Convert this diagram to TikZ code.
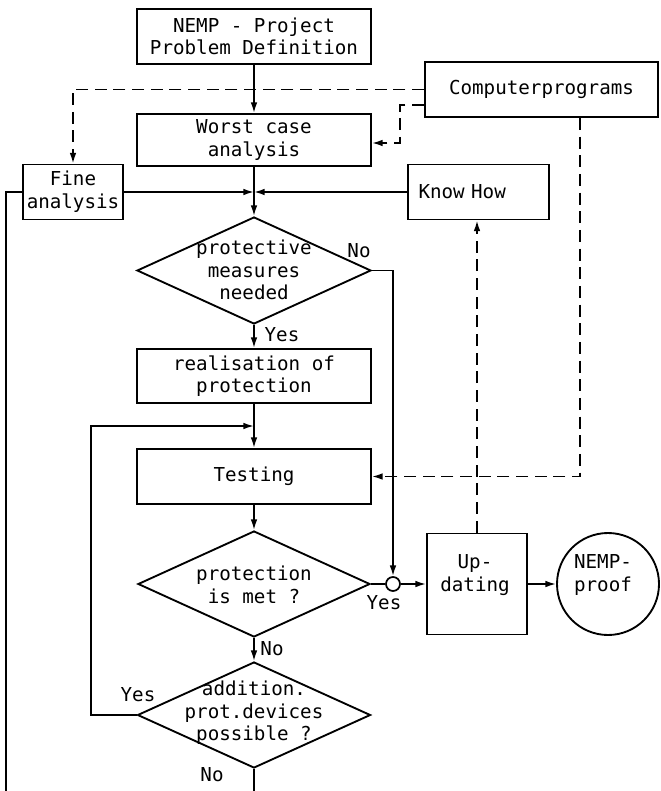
\documentclass[tikz,border=0pt]{standalone}
\usepackage{fontspec}
\newfontfamily\monof{DejaVu Sans Mono}
\usetikzlibrary{shapes.geometric,arrows.meta,calc}
\begin{document}
\begin{tikzpicture}[x=0.75pt,y=-0.75pt,
  every node/.style={font=\monof\fontsize{14.4}{17}\selectfont, inner sep=0pt},
  box/.style={draw, line width=1.4pt, rectangle, align=center},
  dia/.style={draw, line width=1.4pt, diamond},
  lbl/.style={align=center},
  ln/.style={line width=1.3pt},
  arr/.style={line width=1.3pt, -{Latex[length=8pt,width=5pt]}},
  dsh/.style={line width=1.3pt, dash pattern=on 9pt off 5pt},
  darr/.style={dsh, -{Latex[length=8pt,width=5pt]}}]
\useasboundingbox (0,0) rectangle (660,791);

% boxes
\node[box, minimum width=175.5pt, minimum height=41.25pt] (nemp) at (254,36.5) {NEMP - Project\\Problem Definition};
\node[box, minimum width=174.75pt, minimum height=41.25pt] (comp) at (541.5,89.5) {Computerprograms};
\node[box, minimum width=175.5pt, minimum height=39pt] (worst) at (254,140) {Worst case\\analysis};
\node[box, minimum width=75pt, minimum height=41.25pt] (fine) at (73,192) {Fine\\analysis};
\node[box, minimum width=105.75pt, minimum height=41.25pt, text width=90pt, align=left] (know) at (478.5,192) {Know How};
\node[dia, minimum width=175.5pt, minimum height=80.25pt] (d1) at (254,270.5) {};
\node[lbl] (d1t) at (254,270) {protective\\measures\\needed};
\node[box, minimum width=175.5pt, minimum height=40.5pt] (real) at (254,376) {realisation of\\protection};
\node[box, minimum width=175.5pt, minimum height=41.25pt] (test) at (254,476.5) {Testing};
\node[dia, minimum width=174pt, minimum height=79.5pt] (d2) at (254,584) {};
\node[lbl] (d2t) at (254,585) {protection\\is met ?};
\node[dia, minimum width=174.75pt, minimum height=79.5pt] (d3) at (254,715) {};
\node[lbl] (d3t) at (254,713) {addition.\\prot.devices\\possible ?};
\node[draw, circle, line width=1.3pt, minimum size=10.5pt] (c) at (393,584) {};
\node[box, minimum width=75pt, minimum height=75.75pt] (upd) at (477,584) {};
\node[lbl] (updt) at (475,575) {Up-\\dating};
\node[draw, circle, line width=1.4pt, minimum size=76.5pt] (proof) at (608,584) {};
\node[lbl] (prooft) at (603,575) {NEMP-\\proof};

% labels
\node (l1) at (359,251) {No};
\node (l2) at (282,335) {Yes};
\node (l3) at (384,603) {Yes};
\node (l4) at (272,649) {No};
\node (l5) at (138,695) {Yes};
\node (l6) at (212,775) {No};

% coordinates
\coordinate (J) at (254,192);
\coordinate (J2) at (254,426);
\coordinate (L) at (91,426);
\coordinate (lb) at (6,791);
\coordinate (bb) at (254,791);

% solid connectors
\draw[arr] (nemp.south) -- (worst.north);
\draw[ln] (worst.south) -- (J);
\draw[arr] (J) -- (d1.north);
\draw[arr] (fine.east) -- (J);
\draw[arr] (know.west) -- (J);
\draw[ln] (fine.west) -| (lb);
\draw[arr] (d1.south) -- (real.north);
\draw[arr] (d1.east) -| (c.north);
\draw[ln] (real.south) -- (J2);
\draw[arr] (J2) -- (test.north);
\draw[arr] (d3.west) -| (L) -- (J2);
\draw[arr] (test.south) -- (d2.north);
\draw[ln] (d2.east) -- (c.west);
\draw[arr] (c.east) -- (upd.west);
\draw[arr] (upd.east) -- (proof.west);
\draw[arr] (d2.south) -- (d3.north);
\draw[ln] (d3.south) -- (bb);

% dashed connectors
\draw[darr] (comp.west) -| (fine.north);
\draw[darr] ([yshift=-11.6pt]comp.west) -| (400,143) -- (worst.east |- 400,143);
\draw[darr] ([xshift=29pt]comp.south) |- (test.east);
\draw[darr] (upd.north) -- (upd.north |- know.south);
\end{tikzpicture}
\end{document}
